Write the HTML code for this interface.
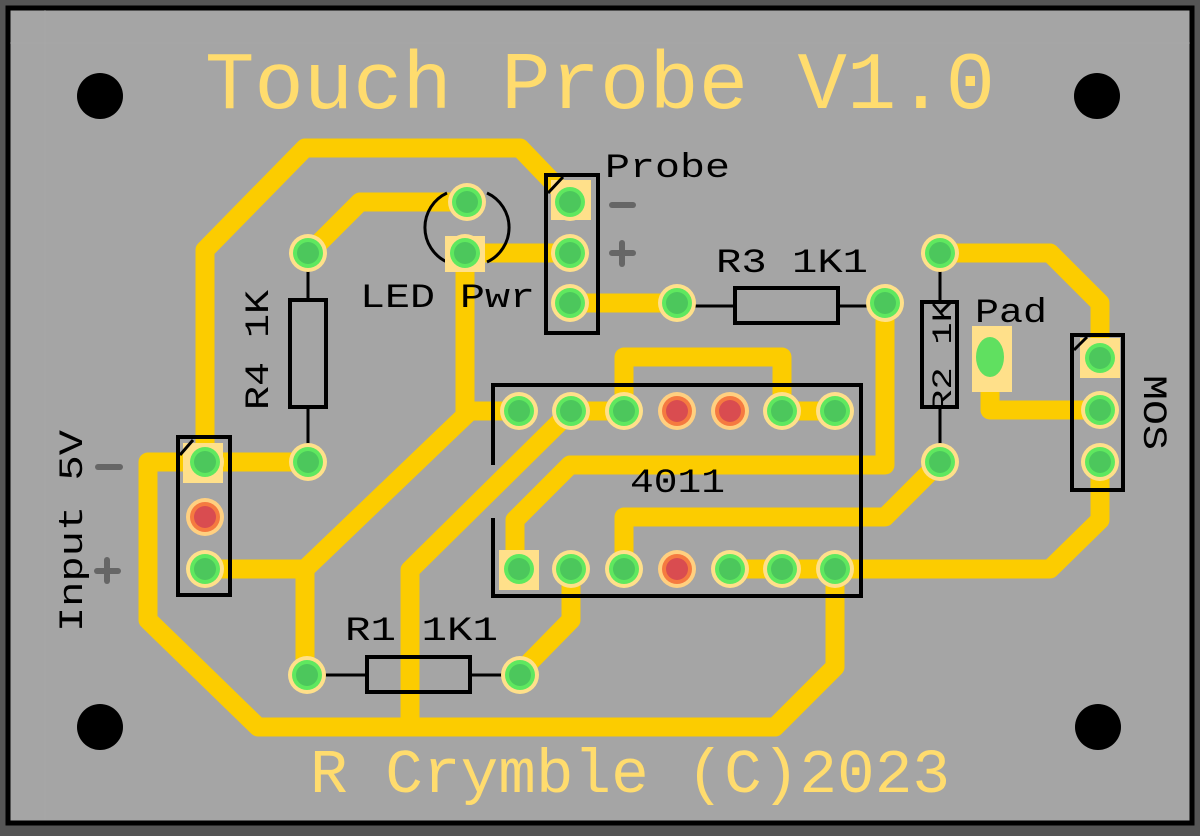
<!DOCTYPE html>
<html><head><meta charset="utf-8"><style>
html,body{margin:0;padding:0;background:#555;}
svg{display:block}
text{font-family:"Liberation Mono","DejaVu Sans Mono",monospace;}
</style></head><body>
<svg width="1200" height="836" viewBox="0 0 1200 836" xmlns="http://www.w3.org/2000/svg">
<rect x="0" y="0" width="1200" height="836" fill="#555"/>
<rect x="8" y="8" width="1184" height="815" fill="#a5a5a5" stroke="#000" stroke-width="5"/>
<g stroke="#acacac" stroke-width="1" opacity="0.5">
<line x1="45" y1="10" x2="45" y2="820"/><line x1="10" y1="43" x2="1190" y2="43"/>
</g>
<g fill="#000"><circle cx="100" cy="96" r="23"/><circle cx="1097" cy="96" r="23"/><circle cx="100" cy="727" r="23"/><circle cx="1098" cy="727" r="23"/></g>
<g fill="none" stroke="#fccc00" stroke-width="19" stroke-linejoin="round" stroke-linecap="round">
<polyline points="205,462 205,250 305,148 520,148 570,200"/>
<polyline points="467,202 360,202 310,252"/>
<polyline points="465,253 570,253"/>
<polyline points="465,253 465,411 519,411"/>
<polyline points="470,411 305,569 205,569"/>
<polyline points="305,569 305,675"/>
<polyline points="205,462 308,462"/>
<polyline points="205,462 148,462 148,620 258,727 775,727 835,667 835,569"/>
<polyline points="570,303 677,303"/>
<polyline points="885,303 885,465 570,465 515,520 515,569"/>
<polyline points="571,411 624,411"/>
<polyline points="624,411 624,357 782,357 782,411 835,411"/>
<polyline points="571,411 410,570 410,727"/>
<polyline points="571,569 571,620 520,672"/>
<polyline points="940,253 1050,253 1100,303 1100,358"/>
<polyline points="990,355 990,410 1100,410"/>
<polyline points="940,462 885,517 624,517 624,569"/>
<polyline points="1100,462 1100,520 1050,569 730,569"/>
</g>
<g fill="none" stroke="#000" stroke-width="4">
<polyline points="493,465 493,385 861,385 861,596 493,596 493,518"/>
<rect x="290" y="300" width="36" height="107"/>
<rect x="735" y="288" width="103" height="35"/>
<rect x="367" y="657" width="103" height="35"/>
<rect x="922" y="302" width="35" height="105"/>
</g>
<g stroke="#000" stroke-width="3" fill="none">
<line x1="308" y1="253" x2="308" y2="300"/><line x1="308" y1="407" x2="308" y2="462"/>
<line x1="677" y1="306" x2="735" y2="306"/><line x1="838" y1="306" x2="885" y2="306"/>
<line x1="307" y1="675" x2="367" y2="675"/><line x1="470" y1="675" x2="520" y2="675"/>
<line x1="940" y1="253" x2="940" y2="302"/><line x1="940" y1="407" x2="940" y2="462"/>
<path d="M447,193 A38,38 0 0 0 447,262"/><path d="M487,193 A38,38 0 0 1 487,262"/>
</g>
<g fill="#ffe08a">
<rect x="183" y="443" width="40" height="40"/>
<rect x="551" y="180" width="40" height="40"/>
<rect x="445" y="236" width="40" height="36"/>
<rect x="1080" y="338" width="40" height="40"/>
<rect x="499" y="550" width="40" height="40"/>
<rect x="972" y="326" width="40" height="66"/>
</g>
<ellipse cx="990" cy="357" rx="14" ry="20" fill="#60e060"/>
<defs>
<g id="gp"><circle r="19" fill="#ffe08a"/><circle r="15" fill="#5fe85f"/><circle r="11" fill="#4cc75c"/></g>
<g id="rp"><circle r="19" fill="#ffd080"/><circle r="15" fill="#f57a40"/><circle r="11" fill="#d94c50"/></g>
</defs>
<g>
<use href="#gp" x="205" y="462"/><use href="#rp" x="205" y="517"/><use href="#gp" x="205" y="569"/>
<use href="#gp" x="308" y="253"/><use href="#gp" x="308" y="462"/>
<use href="#gp" x="467" y="202"/><use href="#gp" x="465" y="253"/>
<use href="#gp" x="570" y="202"/><use href="#gp" x="570" y="253"/><use href="#gp" x="570" y="303"/>
<use href="#gp" x="677" y="303"/><use href="#gp" x="885" y="303"/>
<use href="#gp" x="940" y="253"/><use href="#gp" x="940" y="462"/>
<use href="#gp" x="1100" y="358"/><use href="#gp" x="1100" y="410"/><use href="#gp" x="1100" y="462"/>
<use href="#gp" x="307" y="675"/><use href="#gp" x="520" y="675"/>
<use href="#gp" x="519" y="411"/><use href="#gp" x="571" y="411"/><use href="#gp" x="624" y="411"/><use href="#rp" x="677" y="411"/><use href="#rp" x="730" y="411"/><use href="#gp" x="782" y="411"/><use href="#gp" x="835" y="411"/>
<use href="#gp" x="519" y="569"/><use href="#gp" x="571" y="569"/><use href="#gp" x="624" y="569"/><use href="#rp" x="677" y="569"/><use href="#gp" x="730" y="569"/><use href="#gp" x="782" y="569"/><use href="#gp" x="835" y="569"/>
</g>
<g fill="none" stroke="#000" stroke-width="4">
<rect x="178" y="437" width="52" height="158"/>
<rect x="546" y="175" width="52" height="158"/>
<rect x="1072" y="335" width="51" height="155"/>
</g>
<g stroke="#000" stroke-width="3">
<line x1="180" y1="455" x2="193" y2="440"/><line x1="548" y1="193" x2="563" y2="177"/><line x1="1074" y1="350" x2="1087" y2="337"/>
</g>
<text x="205" y="108" font-size="82" fill="#ffdc6e" textLength="790" lengthAdjust="spacingAndGlyphs">Touch Probe V1.0</text>
<text x="310" y="792" font-size="62" fill="#ffdc6e" textLength="640" lengthAdjust="spacingAndGlyphs">R Crymble (C)2023</text>
<g fill="#000" font-size="34">
<text x="605" y="177" textLength="125" lengthAdjust="spacingAndGlyphs">Probe</text>
<text x="716" y="272" textLength="152" lengthAdjust="spacingAndGlyphs">R3 1K1</text>
<text x="360" y="307" textLength="175" lengthAdjust="spacingAndGlyphs">LED Pwr</text>
<text x="975" y="322" textLength="72" lengthAdjust="spacingAndGlyphs">Pad</text>
<text x="630" y="492" textLength="95" lengthAdjust="spacingAndGlyphs">4011</text>
<text x="345" y="640" textLength="153" lengthAdjust="spacingAndGlyphs">R1 1K1</text>
<text transform="translate(268,410) rotate(-90)" textLength="120" lengthAdjust="spacingAndGlyphs">R4 1K</text>
<text transform="translate(82,632) rotate(-90)" textLength="202" lengthAdjust="spacingAndGlyphs">Input 5V</text>
<text transform="translate(1144,375) rotate(90)" textLength="75" lengthAdjust="spacingAndGlyphs">MOS</text>
<text transform="translate(951,412) rotate(-90)" font-size="28" textLength="112" lengthAdjust="spacingAndGlyphs">R2 1K</text>
</g>
<g stroke="#666" stroke-width="6" stroke-linecap="round">
<line x1="612" y1="205" x2="633" y2="205"/>
<line x1="612" y1="253" x2="633" y2="253"/><line x1="622" y1="243" x2="622" y2="264"/>
<line x1="98" y1="467" x2="120" y2="467"/>
<line x1="97" y1="571" x2="118" y2="571"/><line x1="107" y1="560" x2="107" y2="581"/>
</g>
</svg>
</body></html>
